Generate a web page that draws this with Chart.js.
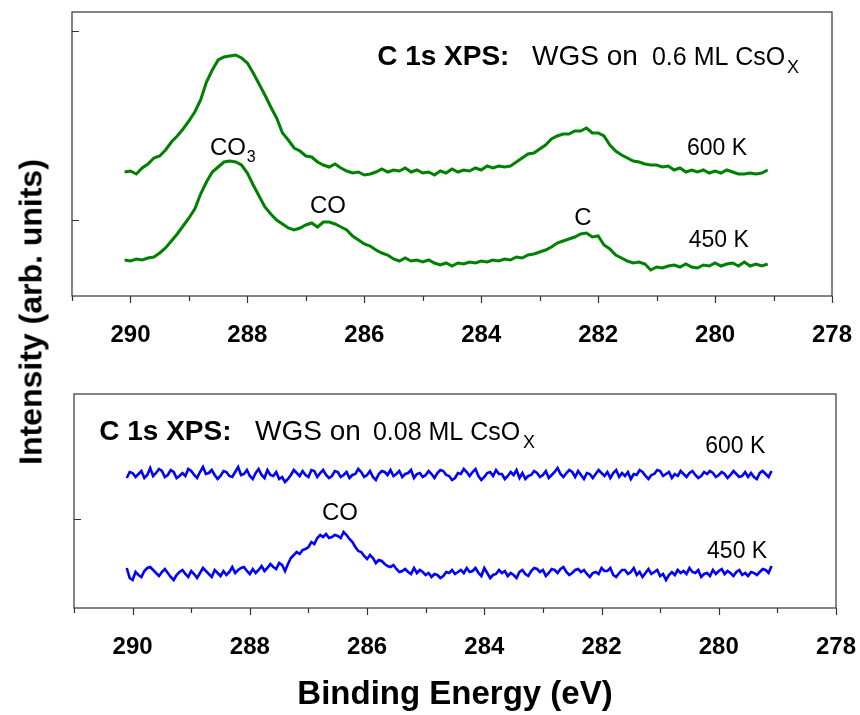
<!DOCTYPE html>
<html><head><meta charset="utf-8">
<script src="https://cdn.jsdelivr.net/npm/chart.js@4.4.1/dist/chart.umd.min.js"></script>
<style>
html,body{margin:0;padding:0;background:#fff;}
#wrap{position:relative;width:860px;height:715px;overflow:hidden;background:#fff;}
#c1{position:absolute;left:0;top:0;width:860px;height:360px;}
#c2{position:absolute;left:0;top:360px;width:860px;height:355px;}
#ytitle{position:absolute;left:31px;top:312px;transform:translate(-50%,-50%) rotate(-90deg);font:bold 32px "Liberation Sans",Arial,sans-serif;white-space:nowrap;color:#000;line-height:normal;}
</style></head><body>
<div id="wrap">
<canvas id="c1" width="860" height="360"></canvas>
<canvas id="c2" width="860" height="355"></canvas>
<div id="ytitle">Intensity (arb. units)</div>
</div>
<script>
// Binding energy grid (eV), top panel
const energy = [290.1,290.0,289.9,289.8,289.7,289.6,289.5,289.4,289.3,289.2,
289.1,289.0,288.9,288.8,288.7,288.6,288.5,288.4,288.3,288.2,
288.1,288.0,287.9,287.8,287.7,287.6,287.5,287.4,287.3,287.2,
287.1,287.0,286.9,286.8,286.7,286.6,286.5,286.4,286.3,286.2,
286.1,286.0,285.9,285.8,285.7,285.6,285.5,285.4,285.3,285.2,
285.1,285.0,284.9,284.8,284.7,284.6,284.5,284.4,284.3,284.2,
284.1,284.0,283.9,283.8,283.7,283.6,283.5,283.4,283.3,283.2,
283.1,283.0,282.9,282.8,282.7,282.6,282.5,282.4,282.3,282.2,
282.1,282.0,281.9,281.8,281.7,281.6,281.5,281.4,281.3,281.2,
281.1,281.0,280.9,280.8,280.7,280.6,280.5,280.4,280.3,280.2,
280.1,280.0,279.9,279.8,279.7,279.6,279.5,279.4,279.3,279.2,
279.1];

// Binding energy grid (eV), bottom panel (finer)
const energyFine = [
290.10,290.05,290.00,289.95,289.90,289.85,289.80,289.75,289.70,289.65,289.60,289.55,289.50,289.45,289.40,289.35,289.30,289.25,289.20,289.15,
289.10,289.05,289.00,288.95,288.90,288.85,288.80,288.75,288.70,288.65,288.60,288.55,288.50,288.45,288.40,288.35,288.30,288.25,288.20,288.15,
288.10,288.05,288.00,287.95,287.90,287.85,287.80,287.75,287.70,287.65,287.60,287.55,287.50,287.45,287.40,287.35,287.30,287.25,287.20,287.15,
287.10,287.05,287.00,286.95,286.90,286.85,286.80,286.75,286.70,286.65,286.60,286.55,286.50,286.45,286.40,286.35,286.30,286.25,286.20,286.15,
286.10,286.05,286.00,285.95,285.90,285.85,285.80,285.75,285.70,285.65,285.60,285.55,285.50,285.45,285.40,285.35,285.30,285.25,285.20,285.15,
285.10,285.05,285.00,284.95,284.90,284.85,284.80,284.75,284.70,284.65,284.60,284.55,284.50,284.45,284.40,284.35,284.30,284.25,284.20,284.15,
284.10,284.05,284.00,283.95,283.90,283.85,283.80,283.75,283.70,283.65,283.60,283.55,283.50,283.45,283.40,283.35,283.30,283.25,283.20,283.15,
283.10,283.05,283.00,282.95,282.90,282.85,282.80,282.75,282.70,282.65,282.60,282.55,282.50,282.45,282.40,282.35,282.30,282.25,282.20,282.15,
282.10,282.05,282.00,281.95,281.90,281.85,281.80,281.75,281.70,281.65,281.60,281.55,281.50,281.45,281.40,281.35,281.30,281.25,281.20,281.15,
281.10,281.05,281.00,280.95,280.90,280.85,280.80,280.75,280.70,280.65,280.60,280.55,280.50,280.45,280.40,280.35,280.30,280.25,280.20,280.15,
280.10,280.05,280.00,279.95,279.90,279.85,279.80,279.75,279.70,279.65,279.60,279.55,279.50,279.45,279.40,279.35,279.30,279.25,279.20,279.15,
279.10];

// Top panel: WGS on 0.6 ML CsOx (arb. units, offset)
const top600K = [124,125,122,128,132,138,140,146,154,160,
167,175,184,196,214,226,236,239,240,241,
238,233,223,212,201,189,178,163,156,148,
145,140,139,134,131,129,132,128,125,123,
124,121,122,124,127,124,126,125,128,124,
126,123,124,121,125,123,127,124,126,125,
128,126,130,128,130,129,130,134,138,142,
143,147,151,157,160,162,162,165,165,168,
163,163,160,151,145,141,138,135,134,132,
131,131,129,130,126,128,124,126,124,126,
123,125,123,126,124,122,122,123,122,123,
126];
const top450K = [36,35,37,36,38,39,43,48,55,62,
70,78,87,102,114,124,129,134,135,134,
131,123,111,100,89,82,76,72,68,66,
68,71,73,69,74,74,72,69,66,60,
56,52,50,46,43,41,37,35,38,35,
36,34,36,33,31,33,30,33,32,34,
33,35,34,36,35,37,36,39,38,41,
42,44,46,49,53,55,57,59,62,63,
59,60,51,47,41,38,35,33,34,32,
26,29,28,30,31,29,32,29,28,31,
30,33,30,32,33,30,34,30,32,30,
32];

// Bottom panel: WGS on 0.08 ML CsOx (on energyFine)
const bot600K = [
130,136,135,131,134,137,130,133,140,132,135,139,137,131,133,138,136,130,132,135,
132,139,137,133,130,136,141,134,135,138,133,129,132,137,136,132,131,136,141,133,
134,138,132,129,135,139,133,130,138,133,132,136,129,131,126,129,133,138,135,132,
137,133,131,138,137,131,135,138,133,130,132,137,136,131,133,136,130,133,134,139,
136,131,133,137,131,128,134,137,136,133,138,132,134,137,131,134,135,138,130,134,
135,131,133,137,134,130,135,138,137,133,132,128,130,135,134,139,136,132,136,139,
132,128,131,135,136,132,138,134,134,129,132,136,133,138,130,135,129,132,133,137,
135,131,133,137,130,133,136,140,134,131,135,138,136,131,137,133,129,135,134,130,
134,138,135,132,136,130,135,138,131,135,132,136,129,134,133,138,136,132,129,133,
134,138,137,132,134,136,130,134,132,137,134,131,135,137,133,130,132,136,134,137,
135,131,133,136,134,130,133,137,134,131,132,136,131,135,131,129,135,137,134,131,
137];
const bot450K = [
40,30,28,36,33,31,37,40,41,38,35,32,36,39,35,31,28,33,36,38,
34,31,37,34,30,35,40,37,34,31,38,35,32,37,33,36,41,35,38,40,
41,37,34,39,35,38,42,37,40,44,41,39,45,43,37,44,50,53,56,54,
58,59,61,66,64,70,73,71,74,70,71,73,72,70,76,73,69,66,61,57,
56,52,49,53,50,45,48,47,44,42,41,43,39,36,37,39,36,34,40,35,
38,36,33,35,31,34,33,30,32,36,35,38,34,36,38,35,40,36,37,40,
35,32,40,35,30,33,34,38,35,37,32,35,33,30,36,38,34,32,37,40,
39,36,38,32,35,39,38,35,39,41,36,33,35,38,39,36,38,34,31,35,
36,34,40,37,37,40,33,31,35,38,38,34,36,40,33,36,31,35,39,34,
36,38,32,34,28,33,36,33,38,35,37,34,40,36,35,38,31,34,35,32,
38,34,37,39,34,37,35,32,36,38,33,35,32,36,35,33,36,39,38,35,
42];

// Axis settings
const xMin = 278, xMax = 291;
const topYRange = [0, 284];
const botYRange = [0, 214];
const topYTicks = [76, 265];
const botYTicks = [89];

const FAM = '"Liberation Sans", Arial, Helvetica, sans-serif';

// Annotations [text, energy, intensity, font]
const topNotes = [
  ['C 1s XPS:', 285.78, 231, 'bold 28px'],
  ['WGS on', 283.13, 231, '28px'],
  ['0.6 ML CsO', 281.08, 231, '25px'],
  ['X', 278.77, 223, '18px'],
  ['600 K', 280.48, 141, '23px'],
  ['450 K', 280.45, 49, '23px'],
  ['CO', 288.64, 141, '24px'],
  ['3', 288.01, 134, '16px'],
  ['CO', 286.93, 83, '24px'],
  ['C', 282.41, 71, '24px']
];
const botNotes = [
  ['C 1s XPS:', 290.57, 168, 'bold 28px'],
  ['WGS on', 287.91, 168, '28px'],
  ['0.08 ML CsO', 285.90, 168, '25px'],
  ['X', 283.34, 160, '18px'],
  ['600 K', 280.23, 155, '23px'],
  ['450 K', 280.20, 50, '23px'],
  ['CO', 286.77, 88, '24px']
];

function pts(arr, grid) { return grid.map((e, i) => ({x: e, y: arr[i]})); }

function decoPlugin(yTicks, notes) {
  return {
    id: 'deco',
    afterDraw(chart) {
      const {ctx, chartArea: a} = chart;
      const xs = chart.scales.x, ys = chart.scales.y;
      ctx.save();
      ctx.strokeStyle = '#333';
      ctx.lineWidth = 1.2;
      ctx.strokeRect(a.left, a.top, a.right - a.left, a.bottom - a.top);
      ctx.beginPath();
      xs.ticks.forEach(t => {
        const px = Math.round(xs.getPixelForValue(t.value)) + 0.5;
        const len = (Math.round(t.value) % 2 === 0) ? 7 : 5;
        ctx.moveTo(px, a.bottom);
        ctx.lineTo(px, a.bottom + len);
      });
      yTicks.forEach(v => {
        const py = Math.round(ys.getPixelForValue(v)) + 0.5;
        ctx.moveTo(a.left, py);
        ctx.lineTo(a.left + 7, py);
      });
      ctx.stroke();
      ctx.fillStyle = '#000';
      ctx.textAlign = 'left';
      ctx.textBaseline = 'alphabetic';
      notes.forEach(n => {
        ctx.font = n[3] + ' ' + FAM;
        ctx.fillText(n[0], xs.getPixelForValue(n[1]), ys.getPixelForValue(n[2]));
      });
      ctx.restore();
    }
  };
}

function makeChart(id, sets, grid, color, width, yRange, pad, axisH, yTicks, notes, showTitle) {
  return new Chart(document.getElementById(id), {
    type: 'line',
    data: {
      datasets: sets.map(s => ({
        data: pts(s, grid), borderColor: color, borderWidth: width,
        pointRadius: 0, tension: 0, fill: false
      }))
    },
    options: {
      responsive: false, animation: false, devicePixelRatio: 1,
      layout: {padding: pad},
      plugins: {legend: {display: false}, tooltip: {enabled: false}},
      scales: {
        x: {
          type: 'linear', min: xMin, max: xMax, reverse: true,
          ticks: {
            stepSize: 1, autoSkip: false, maxRotation: 0, minRotation: 0, maxTicksLimit: 30,
            padding: 25, color: '#000',
            font: {family: FAM, size: 24, weight: 'bold'},
            callback: v => (Math.round(v) % 2 === 0 ? String(v) : '')
          },
          grid: {display: false, drawTicks: false},
          border: {display: false},
          title: {
            display: showTitle, text: 'Binding Energy (eV)', color: '#000',
            font: {family: FAM, size: 33, weight: 'bold'}, padding: {top: 0, bottom: 0}
          },
          afterFit: s => {
            s.height = axisH;
            s.paddingLeft = 0; s.paddingRight = 0; s.paddingTop = 0; s.paddingBottom = 0;
          }
        },
        y: {display: false, min: yRange[0], max: yRange[1]}
      }
    },
    plugins: [decoPlugin(yTicks, notes)]
  });
}

makeChart('c1', [top600K, top450K], energy, 'rgb(0,128,0)', 3, topYRange,
  {left: 72, right: 28, top: 12, bottom: 0}, 64, topYTicks, topNotes, false);
makeChart('c2', [bot600K, bot450K], energyFine, 'rgb(0,0,255)', 2.6, botYRange,
  {left: 74, right: 24, top: 34, bottom: 0}, 107, botYTicks, botNotes, true);
</script>
</body></html>
